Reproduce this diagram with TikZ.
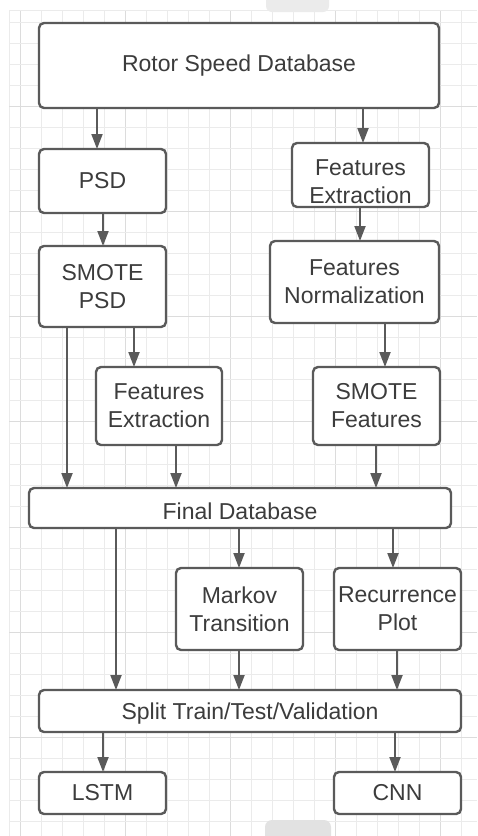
\documentclass[tikz,border=0pt]{standalone}
\usepackage{fontspec}
\setmainfont{Liberation Sans}
\usetikzlibrary{arrows.meta}
\definecolor{boxc}{HTML}{5A5A5A}
\definecolor{txtc}{HTML}{3C3C3C}
\definecolor{gridc}{HTML}{EBEBEB}
\definecolor{gridd}{HTML}{DCDCDC}
\definecolor{blobc}{HTML}{E2E2E2}
\tikzset{
  box/.style={draw=boxc, line width=2.4pt, rounded corners=5pt, fill=white,
    inner sep=0pt, outer sep=0pt, align=center, text=txtc,
    font=\fontsize{23pt}{28pt}\selectfont},
  arr/.style={draw=boxc, line width=2pt, -{Triangle[width=11pt,length=15pt]}},
}
\newcommand{\shifttext}[2]{\raisebox{#1}[\height][\depth]{#2}}
\newcommand{\twoline}[3]{\raisebox{#1}[\height][\depth]{\setlength{\tabcolsep}{0pt}\begin{tabular}{c}#2\\#3\end{tabular}}}
\begin{document}
\begin{tikzpicture}[x=1pt,y=-1pt]
\useasboundingbox (0,0) rectangle (477,836);
\fill[white] (0,0) rectangle (477,836);
% grid
\foreach \k in {0,...,21} {
  \pgfmathsetmacro{\xx}{20+21*\k}
  \pgfmathtruncatemacro{\m}{mod(\k,5)}
  \ifnum\m=0 \draw[gridd, line width=1pt] (\xx,10) -- (\xx,836);
  \else \draw[gridc, line width=1pt] (\xx,10) -- (\xx,836); \fi
}
\draw[gridc, line width=1pt] (9,10) -- (9,836);
\foreach \k in {0,...,38} {
  \pgfmathsetmacro{\yy}{22+21.05*\k}
  \pgfmathtruncatemacro{\m}{mod(\k+1,5)}
  \ifnum\m=0 \draw[gridd, line width=1pt] (9,\yy) -- (477,\yy);
  \else \draw[gridc, line width=1pt] (9,\yy) -- (477,\yy); \fi
}
\draw[gridc, line width=1pt] (9,10) -- (477,10);
% ui blobs
\fill[blobc!70!white, rounded corners=6pt] (266,-10) rectangle (329,12);
\fill[blobc, rounded corners=7pt] (265,820) rectangle (331,850);

% boxes
\node[box, minimum width=400pt, minimum height=85pt] (rsd) at (239,65.5) {Rotor Speed Database};
\node[box, minimum width=127pt, minimum height=64pt] (psd) at (102.5,181) {PSD};
\node[box, minimum width=137pt, minimum height=64pt] (fe1) at (360.5,175) {\twoline{-9pt}{Features}{Extraction}};
\node[box, minimum width=127pt, minimum height=81pt] (smpsd) at (102.5,286.5) {SMOTE\\PSD};
\node[box, minimum width=169pt, minimum height=82pt] (fn) at (354.5,282) {Features\\Normalization};
\node[box, minimum width=126pt, minimum height=78pt] (fe2) at (159,406) {Features\\Extraction};
\node[box, minimum width=127pt, minimum height=78pt] (smf) at (376.5,406) {SMOTE\\Features};
\node[box, minimum width=422pt, minimum height=40pt] (fdb) at (240,508) {\shifttext{-3pt}{Final Database}};
\node[box, minimum width=127pt, minimum height=82pt] (mk) at (239.5,609) {Markov\\Transition};
\node[box, minimum width=127pt, minimum height=82pt] (rp) at (397.5,609) {Recurrence\\Plot};
\node[box, minimum width=422pt, minimum height=42pt] (split) at (250,711) {\shifttext{-3pt}{Split Train/Test/Validation}};
\node[box, minimum width=127pt, minimum height=42pt] (lstm) at (102.5,793) {LSTM};
\node[box, minimum width=127pt, minimum height=42pt] (cnn) at (397.5,793) {CNN};

% column coordinates
\coordinate (c97) at (97,0);
\coordinate (c363) at (363,0);
\coordinate (c103) at (103,0);
\coordinate (c360) at (360,0);
\coordinate (c67) at (67,0);
\coordinate (c134) at (134,0);
\coordinate (c385) at (385,0);
\coordinate (c176) at (176,0);
\coordinate (c376) at (376,0);
\coordinate (c116) at (116,0);
\coordinate (c239) at (239,0);
\coordinate (c393) at (393,0);
\coordinate (c397) at (397,0);
\coordinate (c395) at (395,0);

% connectors
\draw[arr] (rsd.south -| c97) -- (psd.north -| c97);
\draw[arr] (rsd.south -| c363) -- (fe1.north -| c363);
\draw[arr] (psd.south -| c103) -- (smpsd.north -| c103);
\draw[arr] (fe1.south -| c360) -- (fn.north -| c360);
\draw[arr] (smpsd.south -| c67) -- (fdb.north -| c67);
\draw[arr] (smpsd.south -| c134) -- (fe2.north -| c134);
\draw[arr] (fn.south -| c385) -- (smf.north -| c385);
\draw[arr] (fe2.south -| c176) -- (fdb.north -| c176);
\draw[arr] (smf.south -| c376) -- (fdb.north -| c376);
\draw[arr] (fdb.south -| c116) -- (split.north -| c116);
\draw[arr] (fdb.south -| c239) -- (mk.north -| c239);
\draw[arr] (fdb.south -| c393) -- (rp.north -| c393);
\draw[arr] (mk.south -| c239) -- (split.north -| c239);
\draw[arr] (rp.south -| c397) -- (split.north -| c397);
\draw[arr] (split.south -| c103) -- (lstm.north -| c103);
\draw[arr] (split.south -| c395) -- (cnn.north -| c395);
\end{tikzpicture}
\end{document}
